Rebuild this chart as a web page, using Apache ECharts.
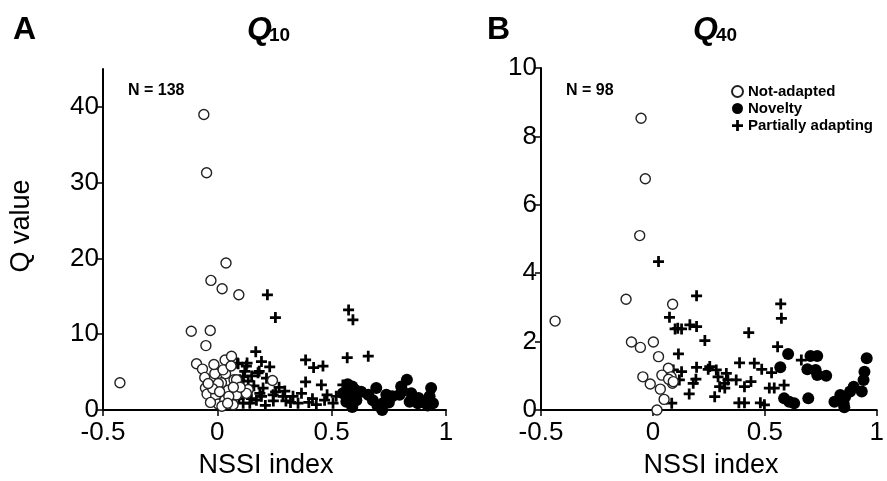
<!DOCTYPE html>
<html>
<head>
<meta charset="utf-8">
<script src="https://cdn.jsdelivr.net/npm/echarts@6/dist/echarts.min.js"></script>
<style>html,body{margin:0;padding:0;background:#fff}#c{width:887px;height:481px}</style>
</head>
<body>
<div id="c"></div>
<script>
// ---- Data ----
const xTicks = [-0.5, 0, 0.5, 1];
const yTicksA = [0, 10, 20, 30, 40];
const yTicksB = [0, 2, 4, 6, 8, 10];
const seriesNames = ['Not-adapted', 'Novelty', 'Partially adapting'];

// Panel A (Q10)
const notAdaptedA = [[-0.059,39.0],[-0.047,31.3],[0.038,19.4],[-0.028,17.1],[0.021,16.0],[0.094,15.2],[-0.114,10.4],[-0.031,10.5],[-0.050,8.5],[-0.426,3.6],[-0.091,6.1],[-0.065,5.4],[-0.055,4.3],[-0.052,2.9],[-0.045,2.1],[-0.007,1.9],[0.004,0.8],[0.034,6.6],[0.062,7.1],[0.008,4.6],[0.036,4.8],[0.018,3.6],[0.073,4.0],[0.047,2.6],[0.033,1.3],[0.084,2.0],[0.135,2.7],[0.241,3.9],[0.069,0.7],[0.020,0.5],[-0.011,4.8],[0.004,3.5],[0.025,5.3],[0.127,2.2],[0.084,4.0],[-0.030,1.0],[0.050,1.8],[0.100,3.0],[-0.020,2.8],[0.060,5.8],[-0.040,3.5],[0.010,2.4],[0.045,0.9],[0.070,3.0],[-0.015,6.0]];
const noveltyA = [[0.590,3.1],[0.579,2.0],[0.608,1.3],[0.564,1.1],[0.590,0.4],[0.549,2.2],[0.629,2.4],[0.695,2.9],[0.680,1.3],[0.724,0.9],[0.721,0.0],[0.765,1.8],[0.739,2.0],[0.829,4.0],[0.804,3.1],[0.797,2.0],[0.841,1.1],[0.877,0.9],[0.935,2.9],[0.928,1.8],[0.943,0.9],[0.899,1.1],[0.848,2.2],[0.600,2.7],[0.700,0.6],[0.880,1.6],[0.570,3.4],[0.660,2.0],[0.750,1.0],[0.920,0.6],[0.810,2.5]];
const partialA = [[0.219,15.2],[0.254,12.2],[0.574,13.2],[0.593,11.9],[0.168,7.7],[0.568,6.9],[0.660,7.1],[0.386,6.6],[0.421,5.6],[0.462,5.8],[0.386,3.7],[0.455,3.3],[0.549,3.3],[0.088,6.2],[0.130,6.2],[0.193,6.4],[0.229,5.7],[0.183,5.1],[0.120,5.1],[0.215,4.2],[0.098,4.0],[0.113,3.1],[0.200,2.9],[0.255,2.4],[0.295,2.5],[0.331,1.8],[0.368,2.2],[0.416,1.5],[0.469,1.3],[0.506,0.9],[0.520,1.8],[0.287,1.8],[0.244,2.0],[0.171,1.3],[0.186,2.2],[0.142,0.9],[0.069,0.9],[0.106,2.4],[0.149,1.5],[0.353,0.9],[0.433,0.7],[0.127,5.8],[0.178,4.9],[0.113,4.4],[0.084,3.3],[0.062,1.1],[0.113,0.9],[0.193,1.8],[0.091,6.1],[0.160,3.2],[0.210,0.6],[0.300,1.2],[0.150,4.5],[0.075,2.0],[0.095,1.5],[0.135,3.8],[0.245,1.2],[0.270,3.0],[0.320,1.0],[0.400,1.0],[0.480,2.0]];

// Panel B (Q40)
const notAdaptedB = [[-0.053,8.53],[-0.034,6.76],[-0.059,5.10],[-0.120,3.24],[0.088,3.09],[-0.437,2.60],[-0.096,1.99],[-0.056,1.83],[0.002,1.99],[0.025,1.56],[-0.045,0.97],[-0.012,0.76],[0.033,0.61],[0.050,0.31],[0.018,0.0],[0.069,1.22],[0.040,1.02],[0.081,0.97],[0.087,0.78],[0.070,0.90],[0.091,0.83]];
const noveltyB = [[0.604,1.64],[0.569,1.25],[0.704,1.58],[0.734,1.58],[0.690,1.19],[0.727,1.17],[0.734,1.02],[0.774,1.00],[0.586,0.34],[0.609,0.24],[0.631,0.20],[0.694,0.34],[0.811,0.24],[0.852,0.20],[0.859,0.39],[0.881,0.54],[0.897,0.68],[0.933,0.54],[0.941,0.88],[0.945,1.12],[0.955,1.51],[0.837,0.44],[0.855,0.08]];
const partialB = [[0.025,4.34],[0.195,3.34],[0.571,3.10],[0.574,2.68],[0.074,2.71],[0.111,2.39],[0.099,2.37],[0.128,2.37],[0.165,2.49],[0.195,2.44],[0.232,2.03],[0.428,2.26],[0.557,1.85],[0.663,1.46],[0.114,1.64],[0.091,1.17],[0.128,1.12],[0.118,0.88],[0.195,1.25],[0.192,0.90],[0.180,0.78],[0.247,1.19],[0.283,1.17],[0.291,0.97],[0.328,1.07],[0.335,0.88],[0.298,0.68],[0.321,0.64],[0.372,0.88],[0.387,1.38],[0.453,1.37],[0.486,1.19],[0.530,1.09],[0.409,0.68],[0.438,0.83],[0.520,0.64],[0.542,0.64],[0.586,0.73],[0.162,0.47],[0.276,0.39],[0.384,0.21],[0.409,0.21],[0.480,0.21],[0.498,0.15],[0.084,0.20],[0.254,1.27],[0.320,0.78]];

// ---- Chart ----
const FONT = '"Liberation Sans", Arial, sans-serif';
const crossPath = 'path://M3,0H5V3H8V5H5V8H3V5H0V3H3Z';

function xAxis(gi) {
  return {
    type: 'value', gridIndex: gi, min: -0.5, max: 1, interval: 0.5,
    splitLine: {show: false},
    axisLine: {show: true, onZero: false, lineStyle: {color: '#000', width: 2}},
    axisTick: {show: true, length: 6, lineStyle: {color: '#000', width: 1.5}, customValues: xTicks},
    axisLabel: {color: '#000', fontSize: 26, fontFamily: FONT, margin: 10, customValues: xTicks}
  };
}
function yAxis(gi, max, interval, ticks) {
  return {
    type: 'value', gridIndex: gi, min: 0, max: max, interval: interval,
    splitLine: {show: false},
    axisLine: {show: true, onZero: false, lineStyle: {color: '#000', width: 2}},
    axisTick: {show: true, length: 6, lineStyle: {color: '#000', width: 1.5}, customValues: ticks},
    axisLabel: {color: '#000', fontSize: 26, fontFamily: FONT, margin: 4, customValues: ticks}
  };
}
function mkSeries(gi, na, nov, part) {
  return [
    {name: seriesNames[2], type: 'scatter', xAxisIndex: gi, yAxisIndex: gi, data: part,
     symbol: crossPath, symbolSize: 11, itemStyle: {color: '#000', opacity: 1}, silent: true},
    {name: seriesNames[0], type: 'scatter', xAxisIndex: gi, yAxisIndex: gi, data: na,
     symbol: 'circle', symbolSize: 10, itemStyle: {color: '#fff', borderColor: '#222', borderWidth: 1.4, opacity: 1}, silent: true},
    {name: seriesNames[1], type: 'scatter', xAxisIndex: gi, yAxisIndex: gi, data: nov,
     symbol: 'circle', symbolSize: 12, itemStyle: {color: '#000', opacity: 1}, silent: true}
  ];
}

const txt = (x, y, text, size, extra) => ({
  type: 'text', x: x, y: y,
  style: Object.assign({text: text, fontSize: size, fontFamily: FONT, fill: '#000', verticalAlign: 'middle', align: 'left'}, extra || {})
});

const chart = echarts.init(document.getElementById('c'), null, {renderer: 'canvas'});
chart.setOption({
  animation: false,
  backgroundColor: '#fff',
  grid: [
    {left: 103, top: 69, width: 343, height: 341},
    {left: 541, top: 68, width: 339, height: 342}
  ],
  xAxis: [xAxis(0), xAxis(1)],
  yAxis: [yAxis(0, 45, 10, yTicksA), yAxis(1, 10, 2, yTicksB)],
  legend: {
    data: [seriesNames[0], seriesNames[1], seriesNames[2]],
    orient: 'vertical', left: 731, top: 84, padding: 0,
    itemWidth: 11, itemHeight: 11, itemGap: 2,
    selectedMode: false,
    textStyle: {fontWeight: 'bold', fontSize: 15, fontFamily: FONT, color: '#000'}
  },
  series: mkSeries(0, notAdaptedA, noveltyA, partialA).concat(mkSeries(1, notAdaptedB, noveltyB, partialB)),
  graphic: [
    txt(13, 30, 'A', 32, {fontWeight: 'bold'}),
    txt(247, 30, 'Q', 32, {fontWeight: 'bold', fontStyle: 'italic'}),
    txt(269, 36, '10', 19, {fontWeight: 'bold'}),
    txt(487, 30, 'B', 32, {fontWeight: 'bold'}),
    txt(693, 30, 'Q', 32, {fontWeight: 'bold', fontStyle: 'italic'}),
    txt(716, 36, '40', 19, {fontWeight: 'bold'}),
    txt(128, 91, 'N = 138', 16, {fontWeight: 'bold'}),
    txt(566, 91, 'N = 98', 16, {fontWeight: 'bold'}),
    txt(266, 466, 'NSSI index', 27, {align: 'center'}),
    txt(711, 466, 'NSSI index', 27, {align: 'center'}),
    {type: 'text', x: 22, y: 226, rotation: Math.PI / 2,
     style: {text: 'Q value', fontSize: 27, fontFamily: FONT, fill: '#000', align: 'center', verticalAlign: 'middle'}}
  ]
});
</script>
</body>
</html>
